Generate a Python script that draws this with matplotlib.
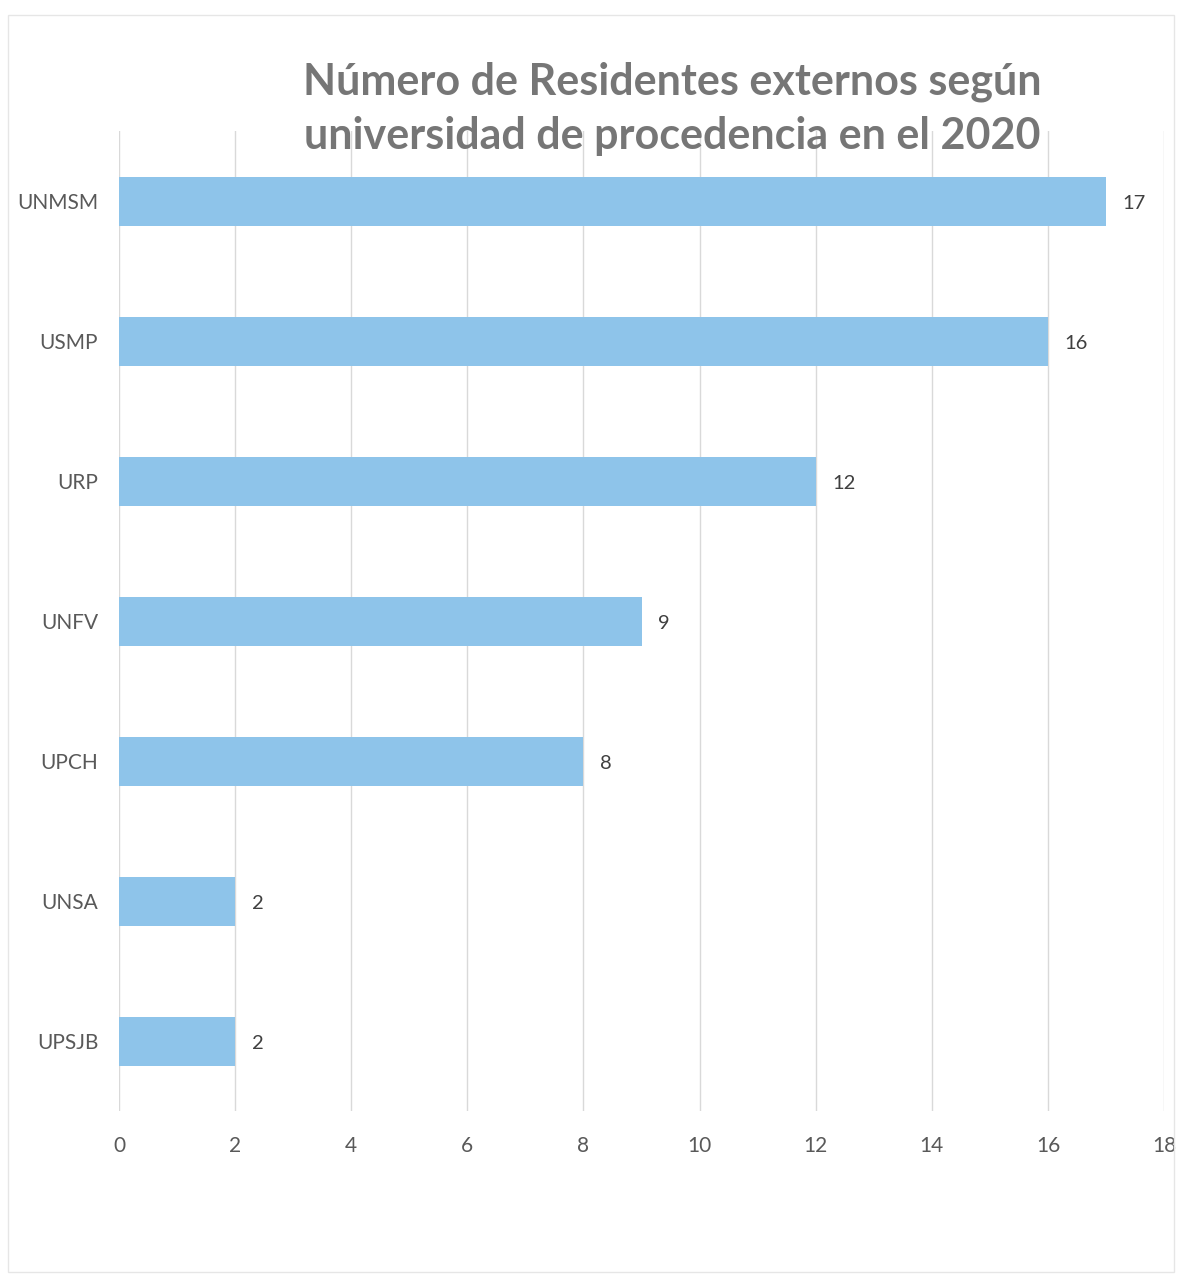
import matplotlib.pyplot as plt
from matplotlib.patches import Rectangle

# data
universidades = ['UNMSM', 'USMP', 'URP', 'UNFV', 'UPCH', 'UNSA', 'UPSJB']
residentes = [17, 16, 12, 9, 8, 2, 2]
xticks = [0, 2, 4, 6, 8, 10, 12, 14, 16, 18]

titulo = 'Número de Residentes externos según\nuniversidad de procedencia en el 2020'

plt.rcParams['font.family'] = ['Lato', 'DejaVu Sans']

fig = plt.figure(figsize=(11.82, 12.76), dpi=100)
ax = fig.add_axes([0.1007, 0.1293, 0.8841, 0.768])

# bars, first category at top
pos = list(range(len(universidades)))[::-1]
ax.barh(pos, residentes, height=0.35, color='#8EC4EA', zorder=2)

for p, v in zip(pos, residentes):
    ax.annotate(str(v), (v, p), xytext=(12, -2), textcoords='offset points',
                va='center', ha='left', fontsize=14.5, color='#404040')

ax.set_xlim(0, 18)
ax.set_ylim(-0.5, len(universidades) - 0.5)
ax.set_xticks(xticks)
ax.set_yticks(pos)
ax.set_yticklabels(universidades)
ax.tick_params(axis='both', length=0, labelsize=15, labelcolor='#595959')
ax.tick_params(axis='x', pad=18)
ax.tick_params(axis='y', pad=15)
ax.grid(axis='x', color='#D9D9D9', lw=1, zorder=0)
for s in ax.spines.values():
    s.set_visible(False)

fig.text(0.569, 0.9145, titulo, ha='center', va='center', fontsize=31,
         fontweight='bold', color='#767676', linespacing=1.42)

# faint outer border of the chart
fig.patches.append(Rectangle((0.007, 0.003), 0.986, 0.985, transform=fig.transFigure,
                             fill=False, edgecolor='#E6E6E6', lw=1))

fig.savefig('out.png', dpi=100)
